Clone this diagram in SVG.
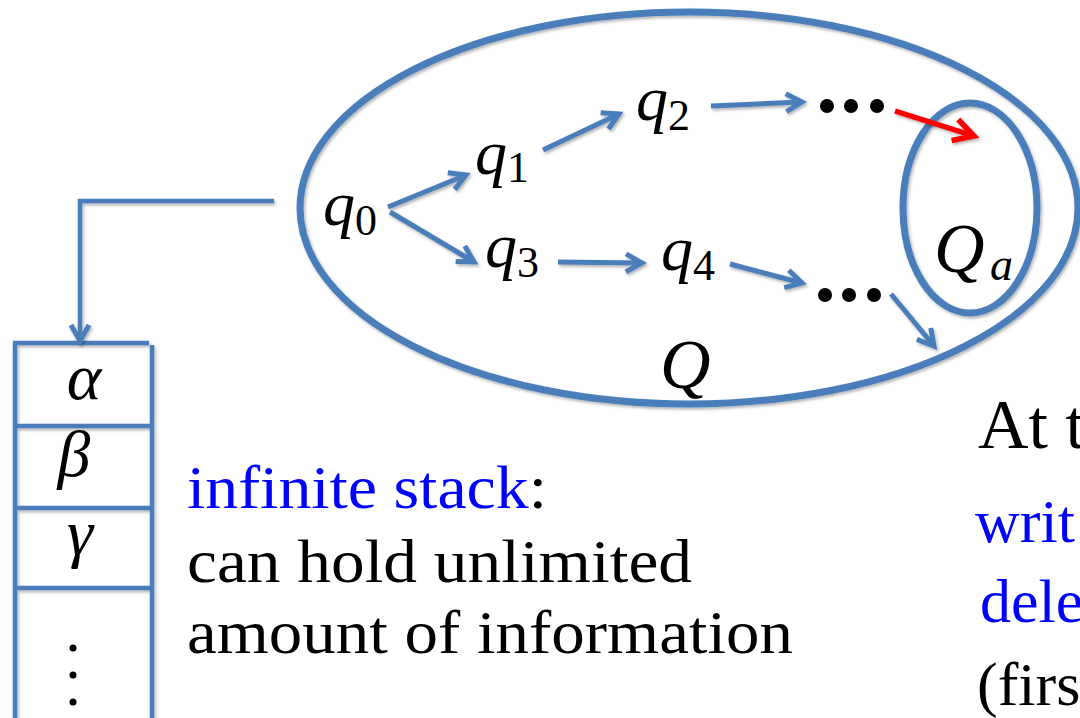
<svg xmlns="http://www.w3.org/2000/svg" width="1080" height="718" viewBox="0 0 1080 718">
<style>
text{font-family:'Liberation Serif','DejaVu Serif','Times New Roman',serif;fill:#000}
.b{fill:none;stroke:#4A7EBB;stroke-width:5}
.big{fill:none;stroke:#4A7EBB;stroke-width:7}
.st{fill:none;stroke:#4A7EBB;stroke-width:4.5}
.m{font-style:italic;font-size:64px}
.s{font-size:44px}
.Q{font-style:italic;font-size:70px}
.sa{font-style:italic;font-size:46px}
.g{font-style:italic;font-size:66px}
.t{font-size:62px}
.blue{fill:#0000FF}
</style>
<defs>
<filter id="sh" x="-10%" y="-10%" width="120%" height="120%">
<feDropShadow dx="1.5" dy="2" stdDeviation="1.5" flood-color="#000" flood-opacity="0.3"/>
</filter>
<marker id="ah" markerUnits="userSpaceOnUse" viewBox="-3 -3 24 24" markerWidth="24" markerHeight="24" refX="16" refY="9" orient="auto">
<path d="M0,0 L16,9 L0,18" fill="none" stroke="#4A7EBB" stroke-width="5" stroke-linejoin="miter"/>
</marker>
<marker id="ahr" markerUnits="userSpaceOnUse" viewBox="-3 -3 28 28" markerWidth="28" markerHeight="28" refX="20" refY="11" orient="auto">
<path d="M0,0 L20,11 L0,22" fill="none" stroke="#FF0000" stroke-width="5.5" stroke-linejoin="miter"/>
</marker>
</defs>

<g id="Q-set" filter="url(#sh)">
<ellipse cx="689" cy="208" rx="389" ry="196" class="big"/>
</g>
<g id="Qa-set" filter="url(#sh)">
<ellipse cx="970" cy="208" rx="67" ry="105" class="big"/>
</g>

<g id="stack" filter="url(#sh)">
<line x1="15" y1="343" x2="15" y2="720" class="st"/>
<line x1="152" y1="345" x2="152" y2="720" class="st"/>
<line x1="13" y1="343" x2="149" y2="343" class="st"/>
<line x1="15" y1="426" x2="152" y2="426" class="st"/>
<line x1="15" y1="508" x2="152" y2="508" class="st"/>
<line x1="15" y1="588" x2="152" y2="588" class="st"/>
</g>

<g id="connectors" filter="url(#sh)">
<polyline points="274,201 80,201 80,341" class="st" marker-end="url(#ah)"/>
<line x1="388" y1="207" x2="466" y2="175" class="b" marker-end="url(#ah)"/>
<line x1="390" y1="212" x2="474" y2="262" class="b" marker-end="url(#ah)"/>
<line x1="543" y1="150" x2="619" y2="114" class="b" marker-end="url(#ah)"/>
<line x1="558" y1="262" x2="642" y2="263" class="b" marker-end="url(#ah)"/>
<line x1="711" y1="106" x2="802" y2="102" class="b" marker-end="url(#ah)"/>
<line x1="730" y1="264" x2="802" y2="283" class="b" marker-end="url(#ah)"/>
<line x1="891" y1="294" x2="934" y2="346" class="b" marker-end="url(#ah)"/>
<line x1="895" y1="111" x2="974" y2="136" stroke="#FF0000" stroke-width="5.5" marker-end="url(#ahr)"/>
</g>

<g id="q0"><text x="323" y="225" class="m">q</text><text x="355" y="235" class="s">0</text></g>
<g id="q1"><text x="475" y="174" class="m">q</text><text x="507" y="182" class="s">1</text></g>
<g id="q2"><text x="636" y="120" class="m">q</text><text x="668" y="130" class="s">2</text></g>
<g id="q3"><text x="485" y="267" class="m">q</text><text x="517" y="277" class="s">3</text></g>
<g id="q4"><text x="661" y="270" class="m">q</text><text x="693" y="280" class="s">4</text></g>

<g id="dots-top">
<circle cx="827" cy="106" r="7"/><circle cx="851" cy="106" r="7"/><circle cx="877" cy="106" r="7"/>
</g>
<g id="dots-bottom">
<circle cx="825" cy="295" r="7"/><circle cx="849" cy="295" r="7"/><circle cx="874" cy="295" r="7"/>
</g>

<g id="label-Qa"><text x="934" y="272" class="Q">Q</text><text x="990" y="280" class="sa">a</text></g>
<g id="label-Q"><text x="660" y="388" class="Q">Q</text></g>

<g id="stack-cells">
<text x="84" y="399" class="g" text-anchor="middle">α</text>
<text x="74" y="476" class="g" text-anchor="middle">β</text>
<text x="80" y="555" class="g" text-anchor="middle">γ</text>
<circle cx="73" cy="648" r="3.5"/><circle cx="73" cy="675" r="3.5"/><circle cx="73" cy="702" r="3.5"/>
</g>

<g id="stack-text">
<text x="187" y="508" class="t" textLength="360" lengthAdjust="spacingAndGlyphs"><tspan class="blue">infinite stack</tspan>:</text>
<text x="187" y="582" class="t" textLength="505" lengthAdjust="spacingAndGlyphs">can hold unlimited</text>
<text x="187" y="653" class="t" textLength="606" lengthAdjust="spacingAndGlyphs">amount of information</text>
</g>

<g id="right-text">
<text x="978" y="448" class="t" style="font-size:70px">At t</text>
<text x="975" y="542" class="t blue">writ</text>
<text x="980" y="622" class="t blue">dele</text>
<text x="977" y="705" class="t">(firs</text>
</g>
</svg>
